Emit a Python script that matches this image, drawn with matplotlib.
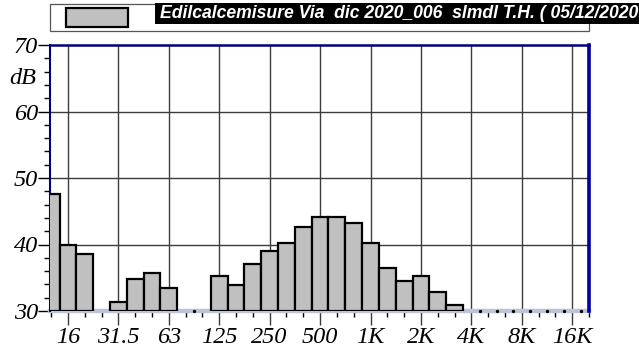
import numpy as np
import matplotlib
matplotlib.use("Agg")
import matplotlib.pyplot as plt
from matplotlib.patches import Rectangle

# third-octave band centres, 12.5 Hz .. 20 kHz
bands = ["12.5", "16", "20", "25", "31.5", "40", "50", "63", "80", "100",
         "125", "160", "200", "250", "315", "400", "500", "630", "800", "1K",
         "1.25K", "1.6K", "2K", "2.5K", "3.15K", "4K", "5K", "6.3K", "8K",
         "10K", "12.5K", "16K", "20K"]
# levels in dB (30 = at or below the chart floor)
levels = [47.6, 39.9, 38.6, 30.0, 31.4, 34.8, 35.7, 33.4, 30.0, 30.0,
          35.3, 33.9, 37.1, 39.0, 40.3, 42.6, 44.1, 44.2, 43.3, 40.3,
          36.5, 34.5, 35.2, 32.9, 30.9, 30.0, 30.0, 30.0, 30.0,
          30.0, 30.0, 30.0, 30.0]
octave_labels = ["16", "31.5", "63", "125", "250", "500", "1K", "2K", "4K", "8K", "16K"]
legend_text = "Edilcalcemisure Via  dic 2020_006  slmdl T.H. ( 05/12/2020"

FLOOR = 30
W, H, DPI = 639, 351, 100
NAVY = "#00007a"

plt.rcParams["font.family"] = ["Liberation Serif", "DejaVu Serif"]
plt.rcParams["font.style"] = "italic"
plt.rcParams["font.size"] = 17.5

fig = plt.figure(figsize=(W / DPI, H / DPI), dpi=DPI)
fig.patch.set_facecolor("white")
ax = fig.add_axes([50 / W, (H - 311) / H, (589 - 50) / W, (311 - 45) / H])

idx = np.arange(len(bands))
vals = np.array(levels)
lit = vals > FLOOR

# light strip along the floor, then bars
ax.axhline(FLOOR, color="#bfc3d9", lw=3.2, zorder=2, clip_on=False)
ax.bar(idx[lit], vals[lit] - FLOOR, bottom=FLOOR, width=1.0,
       color="#c0c0c0", edgecolor="black", linewidth=1.6, zorder=3)
# little dots where two empty bands meet
empty = ~lit
edges = [i + 0.5 for i in idx[:-1] if empty[i] and empty[i + 1]]
ax.scatter(edges, [FLOOR] * len(edges), s=2, color="black", zorder=4,
           clip_on=False)

oct_pos = [bands.index(b) for b in octave_labels]
ax.set_xlim(-0.07, 32.0)
ax.set_ylim(30, 70)
ax.set_xticks(oct_pos, octave_labels)
ax.set_xticks(idx, minor=True)
ax.set_yticks([30, 40, 50, 60, 70])
ax.set_yticks(np.arange(30, 71, 2), minor=True)

for x in oct_pos:
    ax.axvline(x, color="#3c3c3c", lw=1.0, zorder=1)
for y in (40, 50, 60):
    ax.axhline(y, color="#3c3c3c", lw=1.0, zorder=1)

ax.tick_params(axis="x", which="major", length=10, width=1.0, color="#3c3c3c",
               direction="out", pad=1.5, labelsize=17.5)
ax.tick_params(axis="x", which="minor", length=4.5, width=1.0, color="black",
               direction="out")
ax.tick_params(axis="y", which="major", length=8.5, width=1.0, color="black",
               direction="out", pad=0, labelsize=17.5)
ax.tick_params(axis="y", which="minor", length=4.5, width=1.0, color="black",
               direction="out")

ax.text(-0.026, 65, "dB", transform=ax.get_yaxis_transform(), ha="right",
        va="center", fontsize=17.5)

ax.spines["bottom"].set_visible(False)
ax.spines["left"].set_color(NAVY)
ax.spines["left"].set_linewidth(1.5)
ax.spines["top"].set_color(NAVY)
ax.spines["top"].set_linewidth(1.8)
ax.spines["right"].set_color("#0000a0")
ax.spines["right"].set_linewidth(2.6)


# legend strip (figure pixel coords, origin top-left)
def px(x0, y0, x1, y1):
    return (x0 / W, 1 - y1 / H), (x1 - x0) / W, (y1 - y0) / H


xy, w, h = px(50, 4, 589, 31)
fig.patches.append(Rectangle(xy, w, h, transform=fig.transFigure,
                             facecolor="white", edgecolor="#555555", lw=0.9))
xy, w, h = px(66, 8, 128, 27)
fig.patches.append(Rectangle(xy, w, h, transform=fig.transFigure,
                             facecolor="#c0c0c0", edgecolor="black", lw=1.6))
xy, w, h = px(155, 3, 645, 24)
fig.patches.append(Rectangle(xy, w, h, transform=fig.transFigure,
                             facecolor="black", edgecolor="none"))
fig.text(160 / W, 1 - 13.5 / H, legend_text, color="white", ha="left",
         va="center", fontsize=12.7, fontweight="bold", fontstyle="italic",
         fontfamily="Liberation Sans")

fig.savefig("out.png", dpi=DPI, facecolor="white")
